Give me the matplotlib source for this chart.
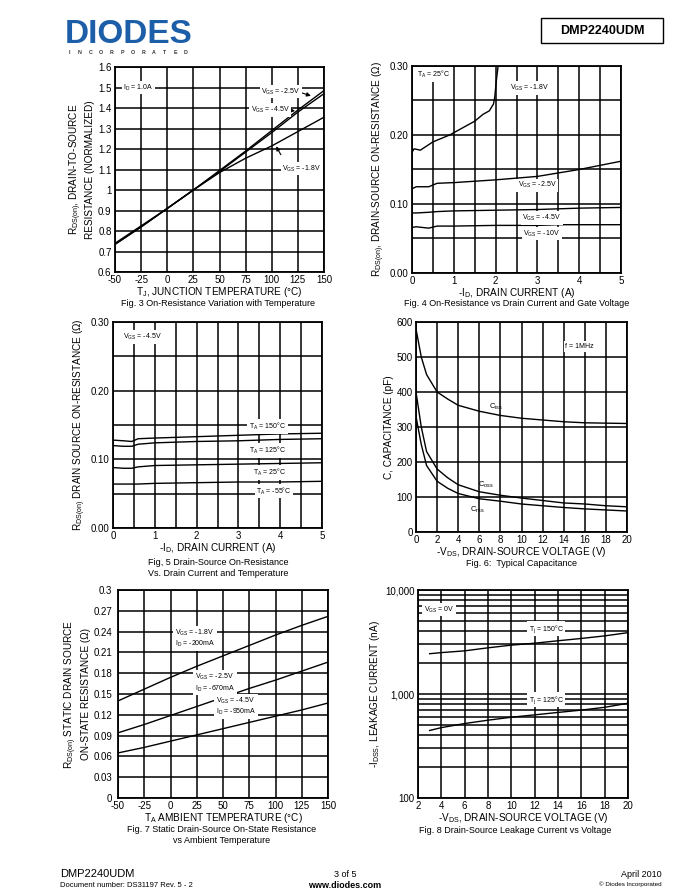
import numpy as np
import matplotlib.pyplot as plt
from matplotlib.patches import Rectangle
from matplotlib.ticker import FixedLocator, FuncFormatter, NullFormatter

plt.rcParams['font.family'] = ['Liberation Sans', 'DejaVu Sans']
plt.rcParams['mathtext.fontset'] = 'custom'
plt.rcParams['mathtext.rm'] = 'Liberation Sans'
plt.rcParams['mathtext.it'] = 'Liberation Sans'
plt.rcParams['mathtext.bf'] = 'Liberation Sans:bold'
plt.rcParams['axes.unicode_minus'] = False

W, H = 680, 896

# ---------------- data ----------------
# Fig 3
t3 = [-50, -25, 0, 25, 50, 75, 100, 125, 150]
r3_25 = [0.74, 0.825, 0.91, 1.0, 1.095, 1.19, 1.29, 1.39, 1.485]
r3_45 = [0.735, 0.82, 0.91, 1.0, 1.09, 1.185, 1.28, 1.38, 1.47]
r3_18 = [0.735, 0.82, 0.91, 1.0, 1.085, 1.155, 1.215, 1.285, 1.355]

# Fig 4
i4_18 = [0.0, 0.05, 0.2, 0.5, 0.9, 1.2, 1.5, 1.7, 1.85, 1.95, 1.98, 2.02, 2.06]
r4_18 = [0.175, 0.18, 0.178, 0.19, 0.2, 0.21, 0.22, 0.23, 0.235, 0.245, 0.255, 0.28, 0.30]
i4 = [0.0, 0.1, 0.4, 0.6, 1.0, 2.0, 3.0, 3.5, 4.0, 5.0]
r4_25 = [0.122, 0.125, 0.125, 0.13, 0.131, 0.135, 0.14, 0.145, 0.15, 0.162]
r4_45 = [0.087, 0.087, 0.088, 0.089, 0.09, 0.091, 0.092, 0.093, 0.094, 0.095]
r4_10 = [0.066, 0.067, 0.065, 0.068, 0.068, 0.069, 0.069, 0.07, 0.07, 0.07]

# Fig 5
i5 = [0.0, 0.25, 0.45, 0.6, 1.0, 2.0, 3.0, 4.0, 5.0]
r5_150 = [0.128, 0.127, 0.126, 0.13, 0.131, 0.133, 0.135, 0.137, 0.138]
r5_125 = [0.12, 0.119, 0.119, 0.122, 0.124, 0.126, 0.127, 0.129, 0.13]
r5_25 = [0.088, 0.087, 0.087, 0.089, 0.091, 0.092, 0.093, 0.094, 0.095]
r5_m55 = [0.064, 0.064, 0.064, 0.064, 0.065, 0.066, 0.067, 0.067, 0.068]

# Fig 6
v6 = [0, 0.5, 1, 2, 3, 4, 6, 8, 10, 12, 14, 16, 18, 20]
c_iss = [580, 500, 450, 400, 380, 362, 345, 333, 325, 320, 315, 312, 311, 310]
c_oss = [400, 300, 230, 180, 155, 135, 115, 105, 97, 90, 83, 80, 75, 72]
c_rss = [330, 250, 190, 145, 125, 110, 95, 88, 80, 75, 70, 66, 63, 60]

# Fig 7
t7 = [-50, -25, 0, 25, 50, 75, 100, 125, 150]
r7_18 = [0.14, 0.157, 0.174, 0.19, 0.205, 0.22, 0.235, 0.249, 0.262]
r7_25 = [0.094, 0.106, 0.119, 0.132, 0.145, 0.158, 0.17, 0.183, 0.196]
r7_45 = [0.065, 0.073, 0.082, 0.091, 0.1, 0.109, 0.118, 0.127, 0.137]

# Fig 8
v8 = [3, 4, 6, 8, 10, 12, 14, 16, 18, 20]
i8_150 = [2440, 2500, 2600, 2780, 2950, 3080, 3250, 3420, 3620, 3890]
i8_125 = [446, 475, 520, 560, 598, 630, 665, 700, 745, 815]

XLFS = 7.2   # axis label size
CAPFS = 6.5  # caption size


def px_axes(fig, x0, y0, x1, y1):
    ax = fig.add_axes([x0 / W, 1 - y1 / H, (x1 - x0) / W, (y1 - y0) / H])
    for s in ax.spines.values():
        s.set_linewidth(1.3)
        s.set_color('black')
    ax.tick_params(which='both', length=0, labelsize=7, pad=2.5)
    ax.grid(True, which='both', color='black', lw=1.1)
    ax.set_axisbelow(True)
    return ax


def lbl(ax, x, y, s, ha='left', va='center', size=5):
    ax.text(x, y, s, ha=ha, va=va, fontsize=size,
            bbox=dict(fc='white', ec='none', pad=1.2), zorder=5)


fig = plt.figure(figsize=(6.8, 8.96), dpi=100)

# ---------------- header ----------------
fig.text(65 / W, 1 - 43 / H, 'DIODES', fontsize=24, fontweight='bold',
         color='#1d5ea8', ha='left', va='baseline', stretch='condensed')
for k, ch in enumerate('INCORPORATED'):
    fig.text((69 + k * 10.6) / W, 1 - 53 / H, ch, fontsize=3.8, fontweight='bold',
             color='#333333', ha='center', va='center')
fig.patches.append(Rectangle((541 / W, 1 - 43 / H), 122 / W, 25 / H, fill=False,
                             ec='black', lw=1.0, transform=fig.transFigure))
fig.text(602 / W, 1 - 30.5 / H, 'DMP2240UDM', fontsize=9, fontweight='bold',
         ha='center', va='center')

# ---------------- Fig 3 ----------------
ax = px_axes(fig, 115, 67, 324, 272)
ax.plot(t3, r3_25, color='black', lw=1.0)
ax.plot(t3, r3_45, color='black', lw=1.0)
ax.plot(t3, r3_18, color='black', lw=1.0)
ax.set_xlim(-50, 150)
ax.set_ylim(0.6, 1.6)
ax.set_xticks(np.arange(-50, 151, 25))
ax.set_yticks(np.arange(0.6, 1.61, 0.1))
ax.yaxis.set_major_formatter(FuncFormatter(lambda v, p: '%g' % round(v, 1)))
ax.set_xlabel('T$_J$, JUNCTION TEMPERATURE (°C)', fontsize=XLFS, labelpad=0)
ax.set_ylabel('R$_{DS(on)}$, DRAIN-TO-SOURCE\nRESISTANCE (NORMALIZED)', fontsize=XLFS, labelpad=2)
lbl(ax, -42, 1.5, 'I$_D$ = 1.0A')
lbl(ax, 90, 1.48, 'V$_{GS}$ = -2.5V')
lbl(ax, 80, 1.39, 'V$_{GS}$ = -4.5V')
lbl(ax, 110, 1.105, 'V$_{GS}$ = -1.8V')
ax.annotate('', xy=(140, 1.455), xytext=(125, 1.48),
            arrowprops=dict(arrowstyle='-|>', color='black', lw=0.8, mutation_scale=6))
ax.annotate('', xy=(125, 1.385), xytext=(113, 1.39),
            arrowprops=dict(arrowstyle='-|>', color='black', lw=0.8, mutation_scale=6))
ax.annotate('', xy=(103, 1.225), xytext=(110, 1.16),
            arrowprops=dict(arrowstyle='-|>', color='black', lw=0.8, mutation_scale=6))
fig.text(218 / W, 1 - 304 / H, 'Fig. 3 On-Resistance Variation with Temperature',
         fontsize=CAPFS, ha='center', va='center')

# ---------------- Fig 4 ----------------
ax = px_axes(fig, 412, 66, 621, 273)
for x, y in [(i4_18, r4_18), (i4, r4_25), (i4, r4_45), (i4, r4_10)]:
    ax.plot(x, y, color='black', lw=1.0)
ax.set_xlim(0, 5)
ax.set_ylim(0, 0.3)
ax.set_xticks(range(6))
ax.xaxis.set_minor_locator(FixedLocator(np.arange(0.5, 5, 1)))
ax.set_yticks([0, 0.1, 0.2, 0.3])
ax.yaxis.set_minor_locator(FixedLocator([0.05, 0.15, 0.25]))
ax.yaxis.set_major_formatter(FuncFormatter(lambda v, p: '%.2f' % v))
ax.set_xlabel('-I$_D$, DRAIN CURRENT (A)', fontsize=XLFS, labelpad=0)
ax.set_ylabel('R$_{DS(on)}$, DRAIN-SOURCE ON-RESISTANCE (Ω)', fontsize=XLFS, labelpad=2)
lbl(ax, 0.12, 0.288, 'T$_A$ = 25°C')
lbl(ax, 2.8, 0.268, 'V$_{GS}$ = -1.8V', ha='center')
lbl(ax, 3.0, 0.127, 'V$_{GS}$ = -2.5V', ha='center')
lbl(ax, 3.1, 0.08, 'V$_{GS}$ = -4.5V', ha='center')
lbl(ax, 3.1, 0.057, 'V$_{GS}$ = -10V', ha='center')
fig.text(517 / W, 1 - 304 / H, 'Fig. 4 On-Resistance vs Drain Current and Gate Voltage',
         fontsize=CAPFS, ha='center', va='center')

# ---------------- Fig 5 ----------------
ax = px_axes(fig, 113, 322, 322, 528)
for y in [r5_150, r5_125, r5_25, r5_m55]:
    ax.plot(i5, y, color='black', lw=1.0)
ax.set_xlim(0, 5)
ax.set_ylim(0, 0.3)
ax.set_xticks(range(6))
ax.xaxis.set_minor_locator(FixedLocator(np.arange(0.5, 5, 1)))
ax.set_yticks([0, 0.1, 0.2, 0.3])
ax.yaxis.set_minor_locator(FixedLocator([0.05, 0.15, 0.25]))
ax.yaxis.set_major_formatter(FuncFormatter(lambda v, p: '%.2f' % v))
ax.set_xlabel('-I$_D$, DRAIN CURRENT (A)', fontsize=XLFS, labelpad=0)
ax.set_ylabel('R$_{DS(on)}$ DRAIN SOURCE ON-RESISTANCE (Ω)', fontsize=XLFS, labelpad=2)
lbl(ax, 0.25, 0.278, 'V$_{GS}$ = -4.5V')
lbl(ax, 3.7, 0.148, 'T$_A$ = 150°C', ha='center')
lbl(ax, 3.7, 0.113, 'T$_A$ = 125°C', ha='center')
lbl(ax, 3.75, 0.081, 'T$_A$ = 25°C', ha='center')
lbl(ax, 3.85, 0.054, 'T$_A$ = -55°C', ha='center')
fig.text(218 / W, 1 - 562 / H, 'Fig, 5 Drain-Source On-Resistance',
         fontsize=CAPFS, ha='center', va='center')
fig.text(218 / W, 1 - 573 / H, 'Vs. Drain Current and Temperature',
         fontsize=CAPFS, ha='center', va='center')

# ---------------- Fig 6 ----------------
ax = px_axes(fig, 416, 322, 627, 532)
for y in [c_iss, c_oss, c_rss]:
    ax.plot(v6, y, color='black', lw=1.0)
ax.set_xlim(0, 20)
ax.set_ylim(0, 600)
ax.set_xticks(range(0, 21, 2))
ax.set_yticks(range(0, 601, 100))
ax.set_xlabel('-V$_{DS}$, DRAIN-SOURCE VOLTAGE (V)', fontsize=XLFS, labelpad=0)
ax.set_ylabel('C, CAPACITANCE (pF)', fontsize=XLFS, labelpad=2)
lbl(ax, 15.5, 530, 'f = 1MHz', ha='center')
ax.text(7.6, 357, 'C$_{iss}$', fontsize=5.5, ha='center', va='center')
ax.text(6.6, 135, 'C$_{oss}$', fontsize=5.5, ha='center', va='center')
ax.text(5.8, 63, 'C$_{rss}$', fontsize=5.5, ha='center', va='center')
fig.text(522 / W, 1 - 563 / H, 'Fig. 6:  Typical Capacitance',
         fontsize=CAPFS, ha='center', va='center')

# ---------------- Fig 7 ----------------
ax = px_axes(fig, 118, 590, 328, 798)
ax.tick_params(axis='y', pad=4)
for y in [r7_18, r7_25, r7_45]:
    ax.plot(t7, y, color='black', lw=1.0)
ax.set_xlim(-50, 150)
ax.set_ylim(0, 0.3)
ax.set_xticks(np.arange(-50, 151, 25))
ax.set_yticks(np.arange(0, 0.301, 0.03))
ax.yaxis.set_major_formatter(FuncFormatter(lambda v, p: '%g' % round(v, 2)))
ax.set_xlabel('T$_A$ AMBIENT TEMPERATURE (°C)', fontsize=XLFS, labelpad=0)
ax.set_ylabel('R$_{DS(on)}$ STATIC DRAIN SOURCE\nON-STATE RESISTANCE (Ω)', fontsize=XLFS, labelpad=2)
lbl(ax, 4, 0.23, 'V$_{GS}$ = -1.8V\nI$_D$ = -200mA')
lbl(ax, 23, 0.166, 'V$_{GS}$ = -2.5V\nI$_D$ = -670mA')
lbl(ax, 43, 0.132, 'V$_{GS}$ = -4.5V\nI$_D$ = -950mA')
fig.text(222 / W, 1 - 829 / H, 'Fig. 7 Static Drain-Source On-State Resistance',
         fontsize=CAPFS, ha='center', va='center')
fig.text(222 / W, 1 - 840 / H, 'vs Ambient Temperature',
         fontsize=CAPFS, ha='center', va='center')

# ---------------- Fig 8 ----------------
ax = px_axes(fig, 418, 590, 628, 798)
ax.plot(v8, i8_150, color='black', lw=1.0)
ax.plot(v8, i8_125, color='black', lw=1.0)
ax.set_yscale('log')
ax.set_xlim(2, 20)
ax.set_ylim(100, 10000)
ax.set_xticks(range(2, 21, 2))
ax.set_yticks([100, 1000, 10000])
ax.set_yticklabels(['100', '1,000', '10,000'])
ax.yaxis.set_minor_formatter(NullFormatter())
ax.set_xlabel('-V$_{DS}$, DRAIN-SOURCE VOLTAGE (V)', fontsize=XLFS, labelpad=0)
ax.set_ylabel('-I$_{DSS}$, LEAKAGE CURRENT (nA)', fontsize=XLFS, labelpad=2)
lbl(ax, 2.5, 6500, 'V$_{GS}$ = 0V')
lbl(ax, 13, 4250, 'T$_j$ = 150°C', ha='center')
lbl(ax, 13, 880, 'T$_j$ = 125°C', ha='center')
fig.text(515 / W, 1 - 830 / H, 'Fig. 8 Drain-Source Leakage Current vs Voltage',
         fontsize=CAPFS, ha='center', va='center')

# ---------------- footer ----------------
fig.text(60 / W, 1 - 874 / H, 'DMP2240UDM', fontsize=8, ha='left', va='center')
fig.text(60 / W, 1 - 885 / H, 'Document number: DS31197 Rev. 5 - 2', fontsize=5.5,
         ha='left', va='center')
fig.text(345 / W, 1 - 874 / H, '3 of 5', fontsize=6.5, ha='center', va='center')
fig.text(345 / W, 1 - 885 / H, 'www.diodes.com', fontsize=6.5, fontweight='bold',
         ha='center', va='center')
fig.text(662 / W, 1 - 874 / H, 'April 2010', fontsize=6.5, ha='right', va='center')
fig.text(662 / W, 1 - 884 / H, '© Diodes Incorporated', fontsize=4.5,
         ha='right', va='center')

fig.savefig('out.png', dpi=100)
